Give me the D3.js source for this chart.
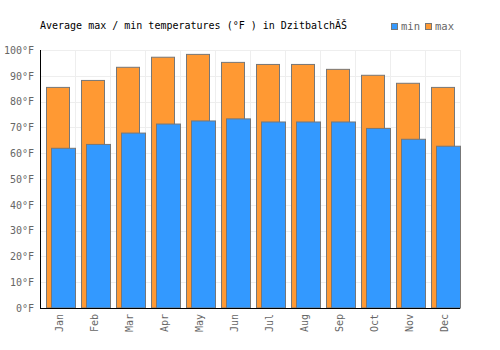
<!DOCTYPE html>
<html><head><meta charset="utf-8">
<script src="https://cdn.jsdelivr.net/npm/d3@7"></script>
<style>body{margin:0;background:#fff}svg{display:block}</style>
</head><body>
<script>
const months = ["Jan","Feb","Mar","Apr","May","Jun","Jul","Aug","Sep","Oct","Nov","Dec"];
const maxTemps = [85.5,88.2,93.3,97.2,98.3,95.2,94.4,94.4,92.5,90.2,87.1,85.5];
const minTemps = [61.9,63.4,67.8,71.3,72.5,73.3,72.1,72.1,72.1,69.6,65.4,62.7];
const yTicks = [0,10,20,30,40,50,60,70,80,90,100];
const title = "Average max / min temperatures (°F ) in DzitbalchĂŠ";

const W=500,H=350, L=40,R=460,T=50,B=308;
const svg=d3.select("body").append("svg").attr("width",W).attr("height",H);
const font="'DejaVu Sans Mono', monospace";
const x=d3.scaleBand().domain(months).range([L,R]).padding(0);
const y=d3.scaleLinear().domain([0,100]).range([B,T]);

// grid
const g=svg.append("g");
g.selectAll("line.h").data(yTicks).join("line").attr("x1",L).attr("x2",R)
 .attr("y1",d=>Math.round(y(d))+0.5).attr("y2",d=>Math.round(y(d))+0.5).attr("stroke","#eeeeee");
g.selectAll("line.v").data(months).join("line")
 .attr("x1",d=>x(d)+x.bandwidth()+0.5).attr("x2",d=>x(d)+x.bandwidth()+0.5)
 .attr("y1",T).attr("y2",B).attr("stroke","#eeeeee");

const bw=x.bandwidth();
svg.append("g").selectAll("rect").data(months).join("rect")
 .attr("x",d=>Math.round(x(d)+bw*0.17)+0.5).attr("width",23)
 .attr("y",(d,i)=>y(maxTemps[i])).attr("height",(d,i)=>B-y(maxTemps[i]))
 .attr("fill","#ff9933").attr("stroke","#777777").attr("stroke-width",1);
svg.append("g").selectAll("rect").data(months).join("rect")
 .attr("x",d=>Math.round(x(d)+bw*0.31)+0.5).attr("width",24)
 .attr("y",(d,i)=>y(minTemps[i])).attr("height",(d,i)=>B-y(minTemps[i]))
 .attr("fill","#3399ff").attr("stroke","#777777").attr("stroke-width",1);

// axes
const ya=svg.append("g").attr("transform",`translate(${L},0)`)
 .call(d3.axisLeft(y).tickValues(yTicks).tickSize(0).tickPadding(6).tickFormat(d=>d+"°F"));
ya.select(".domain").remove();
ya.selectAll("text").attr("font-family",font).attr("font-size",10).attr("fill","#666666");

const xa=svg.append("g").attr("transform",`translate(0,${B})`)
 .call(d3.axisBottom(x).tickSize(0).tickPadding(0));
xa.select(".domain").remove();
xa.selectAll("text").attr("font-family",font).attr("font-size",10).attr("fill","#666666")
 .attr("transform","rotate(-90)").attr("text-anchor","end").attr("x",-6).attr("y",2).attr("dy","0.35em");

svg.append("line").attr("x1",L+0.5).attr("x2",L+0.5).attr("y1",T).attr("y2",B+0.5).attr("stroke","#000");
svg.append("line").attr("x1",L).attr("x2",R).attr("y1",B+0.5).attr("y2",B+0.5).attr("stroke","#000");

// title
svg.append("text").attr("x",40).attr("y",29).attr("font-family",font).attr("font-size",10)
 .attr("fill","#000").text(title);

// legend
const leg=[{k:"min",c:"#3399ff",x:391},{k:"max",c:"#ff9933",x:425}];
const lg=svg.append("g").selectAll("g").data(leg).join("g");
lg.append("rect").attr("x",d=>d.x+0.5).attr("y",23.5).attr("width",6).attr("height",6)
 .attr("fill",d=>d.c).attr("stroke","#777777");
lg.append("text").attr("x",d=>d.x+10).attr("y",30).attr("font-family",font).attr("font-size",10.5)
 .attr("fill","#666666").text(d=>d.k);
</script>
</body></html>
